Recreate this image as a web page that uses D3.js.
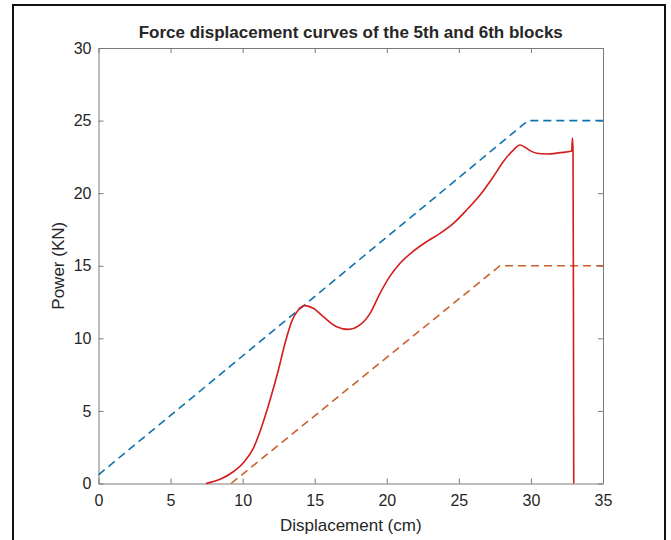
<!DOCTYPE html>
<html>
<head>
<meta charset="utf-8">
<script src="https://cdn.jsdelivr.net/npm/d3@7"></script>
<style>
  body { margin: 0; background: #fff; }
  text { font-family: "Liberation Sans", Arial, Helvetica, sans-serif; fill: #262626; }
</style>
</head>
<body>
<script>
// data
var xTicks = [0, 5, 10, 15, 20, 25, 30, 35];
var yTicks = [0, 5, 10, 15, 20, 25, 30];

var upperX = [0, 29.8, 35];
var upperY = [0.6, 25, 25];

var lowerX = [9.2, 27.85, 35];
var lowerY = [0, 15, 15];

var testX = [7.46, 8.43, 9.35, 10.05, 10.74, 11.32, 11.9, 12.48, 12.94, 13.4, 13.86, 14.33,
             14.9, 15.6, 16.52, 17.33, 18.14, 18.84, 19.53, 20.2, 20.92, 21.84, 22.77, 23.69,
             24.62, 25.54, 26.47, 27.39, 28.08, 28.78, 29.24, 29.59, 29.94, 30.4, 31.1, 32.02,
             32.83, 32.88, 32.92, 32.95, 32.97];
var testY = [0, 0.29, 0.81, 1.43, 2.42, 3.91, 5.75, 7.82, 9.66, 11.15, 11.95, 12.25,
             12.07, 11.49, 10.8, 10.62, 10.92, 11.72, 13.1, 14.25, 15.17, 16.0, 16.66, 17.23,
             17.92, 18.84, 19.87, 21.13, 22.17, 22.97, 23.32, 23.16, 22.93, 22.75, 22.7, 22.79,
             22.9, 23.8, 22.9, 12, 0];

var W = 671, H = 540;
var plot = {left: 98.5, right: 603, top: 48, bottom: 483.5};

var svg = d3.select("body").append("svg")
            .attr("width", W)
            .attr("height", H);

var x = d3.scaleLinear().domain([0, 35]).range([plot.left, plot.right]);
var y = d3.scaleLinear().domain([0, 30]).range([plot.bottom, plot.top]);

var pts = (xs, ys) => xs.map((v, i) => [v, ys[i]]);
var line = d3.line().x(d => x(d[0])).y(d => y(d[1]));

// axes, ticks inside like matlab
var axisCol = "#7a7a7a";
var tl = 5;

var gx = svg.append("g")
            .attr("transform", "translate(0," + plot.bottom + ")")
            .call(d3.axisBottom(x).tickValues(xTicks).tickSize(-tl).tickPadding(11).tickSizeOuter(0));
var gy = svg.append("g")
            .attr("transform", "translate(" + plot.left + ",0)")
            .call(d3.axisLeft(y).tickValues(yTicks).tickSize(-tl).tickPadding(7).tickSizeOuter(0));
var gxt = svg.append("g")
            .attr("transform", "translate(0," + plot.top + ")")
            .call(d3.axisTop(x).tickValues(xTicks).tickSize(-tl).tickFormat("").tickSizeOuter(0));
var gyr = svg.append("g")
            .attr("transform", "translate(" + plot.right + ",0)")
            .call(d3.axisRight(y).tickValues(yTicks).tickSize(-tl).tickFormat("").tickSizeOuter(0));

[gx, gy, gxt, gyr].forEach(g => {
    g.select(".domain").attr("stroke", axisCol);
    g.selectAll(".tick line").attr("stroke", axisCol);
    g.selectAll("text")
        .attr("font-size", "16px")
        .attr("font-family", "'Liberation Sans', Arial, sans-serif")
        .attr("fill", "#3a3a3a");
});

// curves
svg.append("path")
    .attr("d", line(pts(upperX, upperY)))
    .attr("fill", "none")
    .attr("stroke", "#0f72b0")
    .attr("stroke-width", 1.6)
    .attr("stroke-dasharray", "8,5");

svg.append("path")
    .attr("d", line(pts(lowerX, lowerY)))
    .attr("fill", "none")
    .attr("stroke", "#c8622a")
    .attr("stroke-width", 1.6)
    .attr("stroke-dasharray", "8,5");

svg.append("path")
    .attr("d", d3.line().x(d => x(d[0])).y(d => y(d[1])).curve(d3.curveMonotoneX)(pts(testX, testY)))
    .attr("fill", "none")
    .attr("stroke", "#d41c1c")
    .attr("stroke-width", 1.6);

// labels
svg.append("text")
    .attr("x", (plot.left + plot.right) / 2)
    .attr("y", 38)
    .attr("text-anchor", "middle")
    .attr("font-size", "17px")
    .attr("font-weight", "bold")
    .attr("fill", "#1a1a1a")
    .text("Force displacement curves of the 5th and 6th blocks");

svg.append("text")
    .attr("x", (plot.left + plot.right) / 2)
    .attr("y", 531)
    .attr("text-anchor", "middle")
    .attr("font-size", "17px")
    .attr("fill", "#3a3a3a")
    .text("Displacement (cm)");

svg.append("text")
    .attr("transform", "translate(64," + ((plot.top + plot.bottom) / 2) + ") rotate(-90)")
    .attr("text-anchor", "middle")
    .attr("font-size", "17px")
    .attr("fill", "#3a3a3a")
    .text("Power (KN)");

// outer frame
svg.append("rect")
    .attr("x", 13)
    .attr("y", 5)
    .attr("width", 652)
    .attr("height", 545)
    .attr("fill", "none")
    .attr("stroke", "#111")
    .attr("stroke-width", 2);
</script>
</body>
</html>
